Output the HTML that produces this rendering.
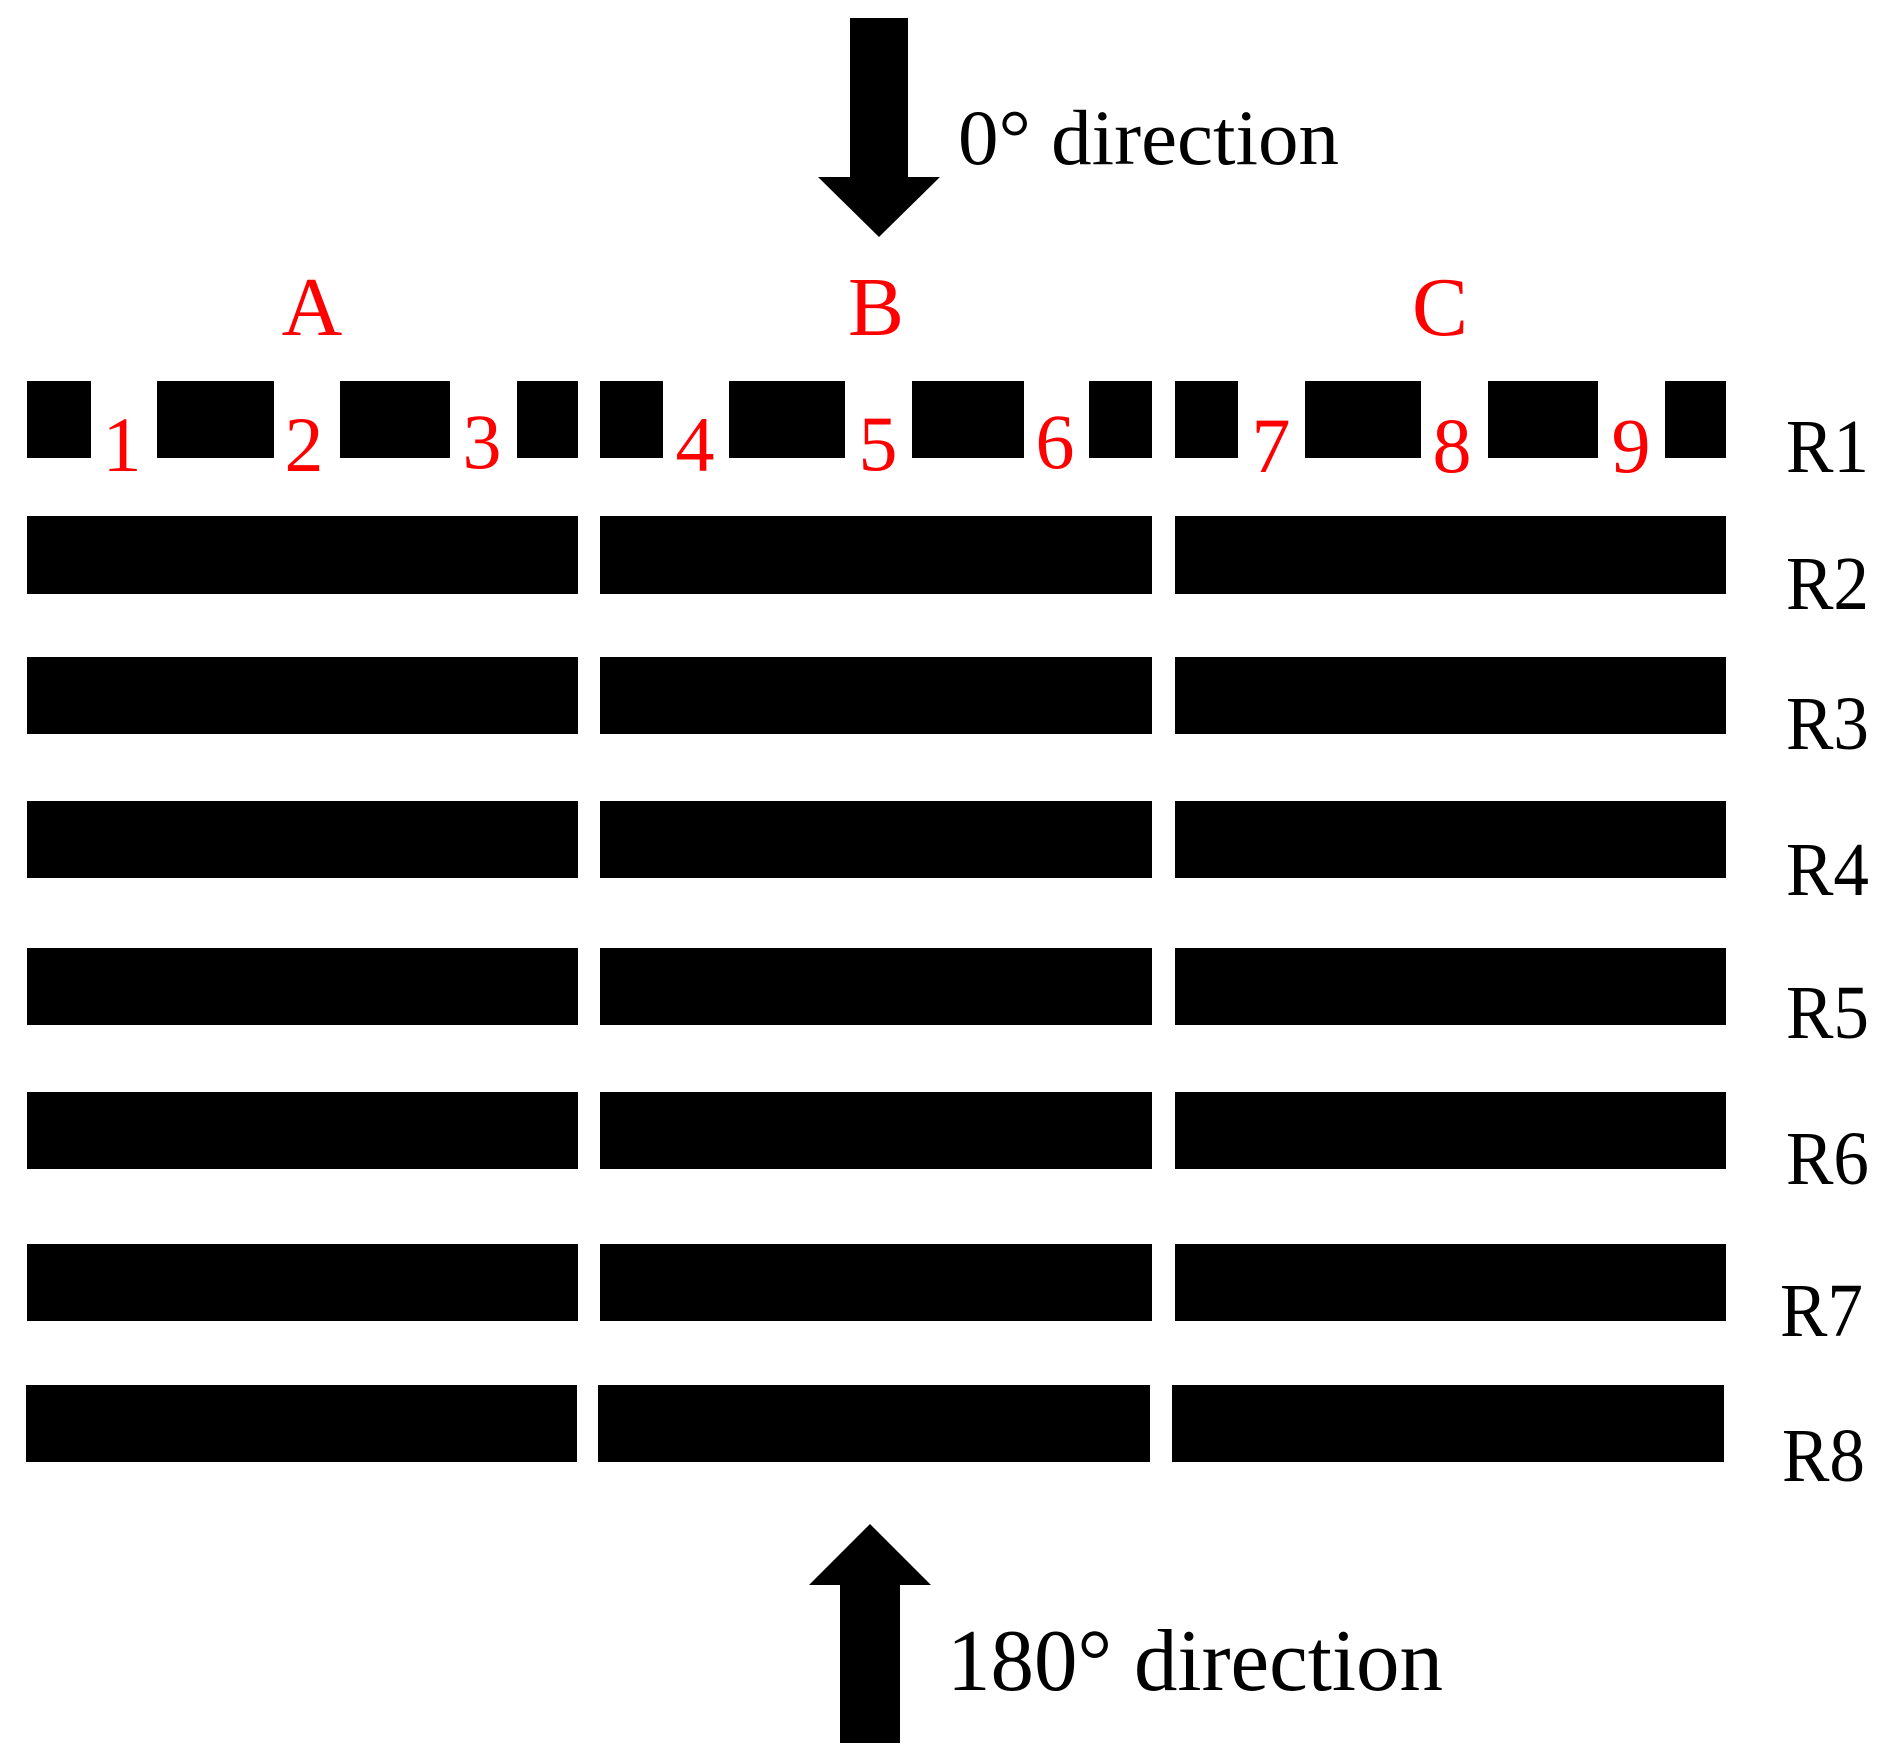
<!DOCTYPE html>
<html><head><meta charset="utf-8"><style>
html,body{margin:0;padding:0;background:#fff;}
svg{display:block;}
text{font-family:"Liberation Serif",serif;}
</style></head><body>
<svg width="1899" height="1756" viewBox="0 0 1899 1756" xmlns="http://www.w3.org/2000/svg">
<rect width="1899" height="1756" fill="#fff"/>
<!-- top arrow -->
<polygon points="850,18 908,18 908,177 940,177 879,237 818,177 850,177" fill="#000"/>
<text x="958" y="164" font-size="78" textLength="381" lengthAdjust="spacingAndGlyphs">0°  direction</text>
<!-- bottom arrow -->
<polygon points="870,1524 931,1585 900,1585 900,1743 840,1743 840,1585 809,1585" fill="#000"/>
<text x="947" y="1690" font-size="88" textLength="496" lengthAdjust="spacingAndGlyphs">180°  direction</text>
<!-- ABC -->
<g fill="#ff0000" font-size="84" text-anchor="middle">
<text x="312" y="335">A</text><text x="876" y="335">B</text><text x="1440" y="335">C</text>
</g>
<!-- R1 segments -->
<g fill="#000">
<rect x="27" y="381" width="64" height="77"/><rect x="157" y="381" width="117" height="77"/><rect x="340" y="381" width="110" height="77"/><rect x="517" y="381" width="61" height="77"/>
<rect x="600" y="381" width="63" height="77"/><rect x="729" y="381" width="116" height="77"/><rect x="912" y="381" width="112" height="77"/><rect x="1089" y="381" width="63" height="77"/>
<rect x="1175" y="381" width="63" height="77"/><rect x="1305" y="381" width="116" height="77"/><rect x="1488" y="381" width="110" height="77"/><rect x="1665" y="381" width="61" height="77"/>
</g>
<g fill="#000">
<rect x="27" y="516" width="551" height="78"/><rect x="600" y="516" width="552" height="78"/><rect x="1175" y="516" width="551" height="78"/>
<rect x="27" y="657" width="551" height="77"/><rect x="600" y="657" width="552" height="77"/><rect x="1175" y="657" width="551" height="77"/>
<rect x="27" y="801" width="551" height="77"/><rect x="600" y="801" width="552" height="77"/><rect x="1175" y="801" width="551" height="77"/>
<rect x="27" y="948" width="551" height="77"/><rect x="600" y="948" width="552" height="77"/><rect x="1175" y="948" width="551" height="77"/>
<rect x="27" y="1092" width="551" height="77"/><rect x="600" y="1092" width="552" height="77"/><rect x="1175" y="1092" width="551" height="77"/>
<rect x="27" y="1244" width="551" height="77"/><rect x="600" y="1244" width="552" height="77"/><rect x="1175" y="1244" width="551" height="77"/>
<rect x="26" y="1385" width="551" height="77"/><rect x="598" y="1385" width="552" height="77"/><rect x="1172" y="1385" width="552" height="77"/>
</g>
<!-- numbers -->
<g fill="#ff0000" font-size="78" text-anchor="middle">
<text x="122" y="471">1</text><text x="304" y="471">2</text><text x="482" y="468">3</text>
<text x="695" y="471">4</text><text x="878" y="470">5</text><text x="1055" y="468">6</text>
<text x="1271" y="472">7</text><text x="1452" y="472">8</text><text x="1631" y="472">9</text>
</g>
<!-- R labels -->
<g fill="#000" font-size="76">
<text x="1786" y="472" textLength="83" lengthAdjust="spacingAndGlyphs">R1</text>
<text x="1786" y="609" textLength="83" lengthAdjust="spacingAndGlyphs">R2</text>
<text x="1786" y="749" textLength="83" lengthAdjust="spacingAndGlyphs">R3</text>
<text x="1786" y="895" textLength="83" lengthAdjust="spacingAndGlyphs">R4</text>
<text x="1786" y="1038" textLength="83" lengthAdjust="spacingAndGlyphs">R5</text>
<text x="1786" y="1184" textLength="83" lengthAdjust="spacingAndGlyphs">R6</text>
<text x="1780" y="1336" textLength="83" lengthAdjust="spacingAndGlyphs">R7</text>
<text x="1782" y="1481" textLength="83" lengthAdjust="spacingAndGlyphs">R8</text>
</g>
</svg>
</body></html>
